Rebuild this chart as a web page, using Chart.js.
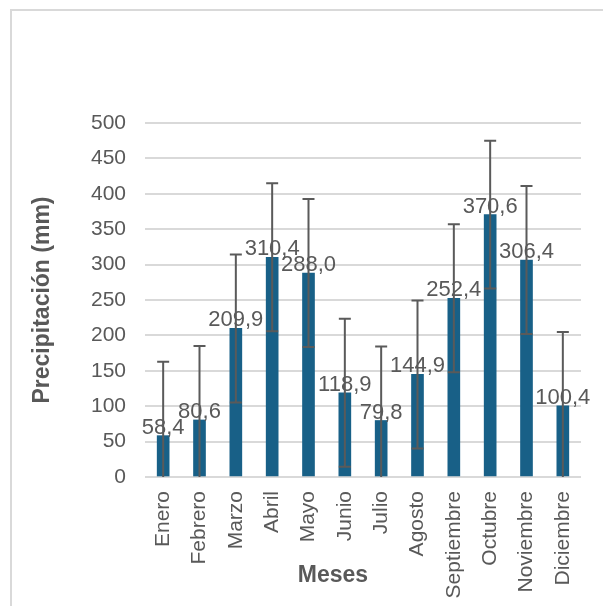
<!DOCTYPE html>
<html>
<head>
<meta charset="utf-8">
<script src="https://cdn.jsdelivr.net/npm/chart.js@4.4.1/dist/chart.umd.min.js"></script>
<style>
  html, body { margin: 0; padding: 0; background: #ffffff; }
  #chart { display: block; }
</style>
</head>
<body>
<canvas id="chart" width="603" height="606"></canvas>
<script>

var meses = ["Enero", "Febrero", "Marzo", "Abril", "Mayo", "Junio", "Julio",
             "Agosto", "Septiembre", "Octubre", "Noviembre", "Diciembre"];
var precipitacion = [58.4, 80.6, 209.9, 310.4, 288.0, 118.9, 79.8, 144.9, 252.4, 370.6, 306.4, 100.4];
var errorBarra = [104.5, 104.5, 104.5, 104.5, 104.5, 104.5, 104.5, 104.5, 104.5, 104.5, 104.5, 104.5];
var yTicks = [0, 50, 100, 150, 200, 250, 300, 350, 400, 450, 500];

const TEXT_COLOR = "#595959";
const GRID_COLOR = "#d9d9d9";
const BAR_COLOR = "#186087";
const FONT = "'Liberation Sans', Arial, sans-serif";

function formatValue(v) {
    return v.toFixed(1).replace(".", ",");
}

// frame lines (only top/left show in the crop)
var framePlugin = {
    id: "frame",
    beforeDraw: function (chart) {
        var ctx = chart.ctx;
        ctx.save();
        ctx.fillStyle = "#ffffff";
        ctx.fillRect(0, 0, chart.width, chart.height);
        ctx.fillStyle = GRID_COLOR;
        ctx.fillRect(10, 9, chart.width - 10, 2);
        ctx.fillRect(10, 9, 2, chart.height - 9);
        ctx.restore();
    }
};

// value labels, then error bars on top
var labelsAndErrors = {
    id: "labelsAndErrors",
    afterDatasetsDraw: function (chart) {
        var ctx = chart.ctx;
        var yScale = chart.scales.y;
        var meta = chart.getDatasetMeta(0);
        var area = chart.chartArea;

        ctx.save();
        ctx.fillStyle = TEXT_COLOR;
        ctx.font = "22px " + FONT;
        ctx.textAlign = "center";
        ctx.textBaseline = "alphabetic";
        for (var i = 0; i < meta.data.length; i++) {
            var bar = meta.data[i];
            ctx.fillText(formatValue(precipitacion[i]), bar.x, bar.y - 2);
        }

        ctx.beginPath();
        ctx.rect(area.left, area.top - 20, area.right - area.left, area.bottom - area.top + 20);
        ctx.clip();
        ctx.strokeStyle = "#5a5a5a";
        ctx.lineWidth = 2;
        for (var j = 0; j < meta.data.length; j++) {
            var x = meta.data[j].x;
            var hi = yScale.getPixelForValue(precipitacion[j] + errorBarra[j]);
            var lo = yScale.getPixelForValue(Math.max(precipitacion[j] - errorBarra[j], -20));
            ctx.beginPath();
            ctx.moveTo(x, hi);
            ctx.lineTo(x, lo);
            ctx.moveTo(x - 6, hi);
            ctx.lineTo(x + 6, hi);
            ctx.moveTo(x - 6, lo);
            ctx.lineTo(x + 6, lo);
            ctx.stroke();
        }
        ctx.restore();

        // x axis title, sits between the rotated labels like in the original
        ctx.save();
        ctx.fillStyle = TEXT_COLOR;
        ctx.font = "bold 23px " + FONT;
        ctx.textAlign = "center";
        ctx.textBaseline = "middle";
        ctx.fillText("Meses", 333, 576);
        ctx.restore();
    }
};

var ctx = document.getElementById("chart");

var chart = new Chart(ctx, {
    type: "bar",
    data: {
        labels: meses,
        datasets: [{
            label: "Precipitación (mm)",
            data: precipitacion,
            backgroundColor: BAR_COLOR,
            borderWidth: 0,
            barThickness: 12
        }]
    },
    options: {
        responsive: false,
        animation: false,
        devicePixelRatio: 1,
        layout: {
            padding: { top: 123, right: 22, bottom: 0, left: 0 }
        },
        plugins: {
            legend: { display: false },
            tooltip: { enabled: false }
        },
        scales: {
            x: {
                grid: { display: false, drawTicks: false },
                border: { display: false },
                ticks: {
                    color: TEXT_COLOR,
                    font: { family: FONT, size: 21 },
                    maxRotation: 90,
                    minRotation: 90,
                    padding: 14,
                    autoSkip: false
                },
                afterFit: function (scale) { scale.height = 129; }
            },
            y: {
                min: yTicks[0],
                max: yTicks[yTicks.length - 1],
                grid: { color: GRID_COLOR, lineWidth: 2, drawTicks: false },
                border: { display: false },
                afterBuildTicks: function (scale) {
                    scale.ticks = yTicks.map(function (v) { return { value: v }; });
                },
                ticks: {
                    color: TEXT_COLOR,
                    font: { family: FONT, size: 21 },
                    padding: 19
                },
                title: {
                    display: true,
                    text: "Precipitación (mm)",
                    color: TEXT_COLOR,
                    font: { family: FONT, size: 23, weight: "bold" },
                    padding: { top: 29, bottom: 0 }
                },
                afterFit: function (scale) { scale.width = 145; }
            }
        }
    },
    plugins: [framePlugin, labelsAndErrors]
});
</script>
</body>
</html>
